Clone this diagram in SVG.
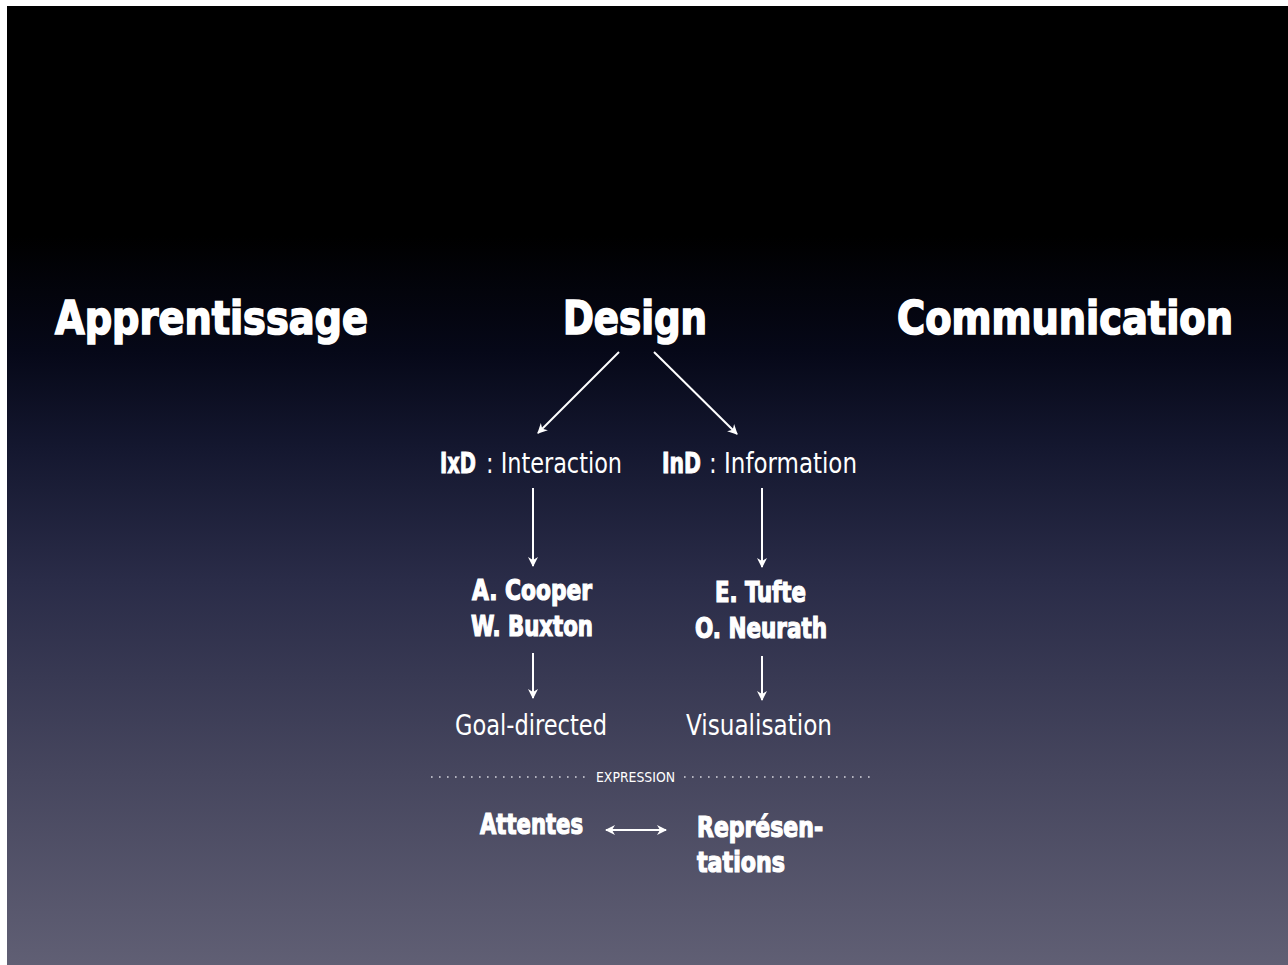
<svg xmlns="http://www.w3.org/2000/svg" width="1288" height="965" viewBox="0 0 1288 965">
  <defs>
    <linearGradient id="bg" x1="0" y1="0" x2="0" y2="1">
      <stop offset="0" stop-color="#000000"/>
      <stop offset="0.24" stop-color="#000000"/>
      <stop offset="0.36" stop-color="#060818"/>
      <stop offset="0.46" stop-color="#14172f"/>
      <stop offset="0.6" stop-color="#2a2c48"/>
      <stop offset="0.8" stop-color="#46465e"/>
      <stop offset="1" stop-color="#605f74"/>
    </linearGradient>
    <marker id="head" viewBox="0 0 10 10" refX="9" refY="5" markerWidth="10" markerHeight="10" markerUnits="userSpaceOnUse" orient="auto-start-reverse">
      <path d="M0,0 L10,5 L0,10 L3,5 Z" fill="#ffffff"/>
    </marker>
    <style>
      text { fill: #ffffff; }
      .title { font-family: "Liberation Sans Narrow", "DejaVu Sans Condensed", "Liberation Sans", sans-serif; font-weight: bold; font-size: 46px; stroke: #ffffff; stroke-width: 1.6px; }
      .branch { font-family: "Liberation Sans Narrow", "DejaVu Sans Condensed", "Liberation Sans", sans-serif; font-size: 29px; }
      .abbr { font-family: "Liberation Sans Narrow", "DejaVu Sans Condensed", "Liberation Sans", sans-serif; font-size: 29px; font-weight: bold; stroke: #ffffff; stroke-width: 1px; }
      .name { font-family: "Liberation Sans Narrow", "DejaVu Sans Condensed", "Liberation Sans", sans-serif; font-weight: bold; font-size: 28px; stroke: #ffffff; stroke-width: 1.2px; }
      .result { font-family: "Liberation Sans Narrow", "DejaVu Sans Condensed", "Liberation Sans", sans-serif; font-size: 29px; }
      .small { font-family: "Liberation Sans Narrow", "DejaVu Sans Condensed", "Liberation Sans", sans-serif; font-size: 14px; }
      .link { stroke: #ffffff; stroke-width: 2; fill: none; }
      .dots { stroke: #d8d8e0; stroke-width: 1.6; stroke-dasharray: 1.6 6.4; fill: none; }
    </style>
  </defs>

  <!-- slide frame -->
  <rect x="0" y="0" width="1288" height="965" fill="#ffffff"/>
  <rect x="7" y="6" width="1281" height="959" fill="url(#bg)"/>

  <!-- top-level headings -->
  <g id="apprentissage">
    <text class="title" x="55" y="334" textLength="313" lengthAdjust="spacingAndGlyphs">Apprentissage</text>
  </g>
  <g id="design">
    <text class="title" x="563" y="334" textLength="144" lengthAdjust="spacingAndGlyphs">Design</text>
  </g>
  <g id="communication">
    <text class="title" x="897" y="334" textLength="336" lengthAdjust="spacingAndGlyphs">Communication</text>
  </g>

  <!-- branches -->
  <g id="ixd">
    <text class="abbr" x="440" y="473" textLength="36" lengthAdjust="spacingAndGlyphs">IxD</text>
    <text class="branch" x="486" y="473" textLength="136" lengthAdjust="spacingAndGlyphs">: Interaction</text>
  </g>
  <g id="ind">
    <text class="abbr" x="662" y="473" textLength="39" lengthAdjust="spacingAndGlyphs">InD</text>
    <text class="branch" x="709" y="473" textLength="148" lengthAdjust="spacingAndGlyphs">: Information</text>
  </g>

  <!-- authors -->
  <g id="cooper-buxton">
    <text class="name" x="472" y="600" textLength="120" lengthAdjust="spacingAndGlyphs">A. Cooper</text>
    <text class="name" x="471" y="636" textLength="122" lengthAdjust="spacingAndGlyphs">W. Buxton</text>
  </g>
  <g id="tufte-neurath">
    <text class="name" x="715" y="602" textLength="91" lengthAdjust="spacingAndGlyphs">E. Tufte</text>
    <text class="name" x="695" y="638" textLength="132" lengthAdjust="spacingAndGlyphs">O. Neurath</text>
  </g>

  <!-- outcomes -->
  <g id="goal-directed">
    <text class="result" x="455" y="735" textLength="152" lengthAdjust="spacingAndGlyphs">Goal-directed</text>
  </g>
  <g id="visualisation">
    <text class="result" x="686" y="735" textLength="146" lengthAdjust="spacingAndGlyphs">Visualisation</text>
  </g>

  <!-- expression divider -->
  <g id="expression">
    <line class="dots" x1="431" y1="777" x2="586" y2="777"/>
    <text class="small" x="596" y="782" textLength="79" lengthAdjust="spacingAndGlyphs">EXPRESSION</text>
    <line class="dots" x1="684" y1="777" x2="870" y2="777"/>
  </g>

  <g id="attentes">
    <text class="name" x="480" y="834" textLength="103" lengthAdjust="spacingAndGlyphs">Attentes</text>
  </g>
  <g id="representations">
    <text class="name" x="697" y="837" textLength="126" lengthAdjust="spacingAndGlyphs">Représen-</text>
    <text class="name" x="697" y="872" textLength="88" lengthAdjust="spacingAndGlyphs">tations</text>
  </g>

  <!-- connectors -->
  <g id="connectors">
    <line class="link" x1="619" y1="352" x2="538" y2="433" marker-end="url(#head)"/>
    <line class="link" x1="654" y1="352" x2="737" y2="434" marker-end="url(#head)"/>
    <line class="link" x1="533" y1="488" x2="533" y2="566" marker-end="url(#head)"/>
    <line class="link" x1="762" y1="488" x2="762" y2="567" marker-end="url(#head)"/>
    <line class="link" x1="533" y1="653" x2="533" y2="698" marker-end="url(#head)"/>
    <line class="link" x1="762" y1="656" x2="762" y2="700" marker-end="url(#head)"/>
    <line class="link" x1="606" y1="830" x2="666" y2="830" marker-start="url(#head)" marker-end="url(#head)"/>
  </g>
</svg>
